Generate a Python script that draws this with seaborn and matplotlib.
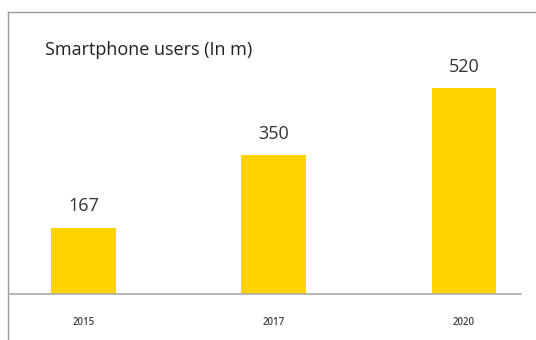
import matplotlib
matplotlib.use("Agg")
import pandas as pd
import seaborn as sns
from matplotlib import pyplot as plt

years = ["2015", "2017", "2020"]
users = [167, 350, 520]
title = "Smartphone users (In m)"

sns.set_style("white")
plt.rcParams['font.family'] = ['Open Sans', 'DejaVu Sans']

df = pd.DataFrame({"year": years, "users": users})

fig = plt.figure(figsize=(5.36, 3.4), dpi=100)
ax = fig.add_axes([8 / 536, 0, 1 - 8 / 536, 328 / 340])

sns.barplot(data=df, x="year", y="users", color="#FFD200", width=0.34,
            saturation=1, linewidth=0, ax=ax)

ax.set_xlim(-0.397, 2.379)
ax.set_ylim(-116, 712)

for c in ax.containers:
    ax.bar_label(c, padding=9, fontsize=13, color="#333333")

# baseline and year labels
ax.plot([-0.397, 2.3], [0, 0], color="#aaaaaa", lw=1.2, zorder=3)
for i, y in enumerate(years):
    ax.text(i, -72, y, ha="center", va="center", fontsize=7, color="#444444",
            fontweight="semibold")

ax.text(0.07, 0.885, title, transform=ax.transAxes, fontsize=13,
        color="#222222", ha="left", va="center")

for s in ["right", "bottom"]:
    ax.spines[s].set_visible(False)
for s in ["left", "top"]:
    ax.spines[s].set_color("#999999")
    ax.spines[s].set_linewidth(1)

ax.set_xticks([])
ax.set_yticks([])
ax.set_xlabel("")
ax.set_ylabel("")

fig.savefig("out.png", dpi=100)
